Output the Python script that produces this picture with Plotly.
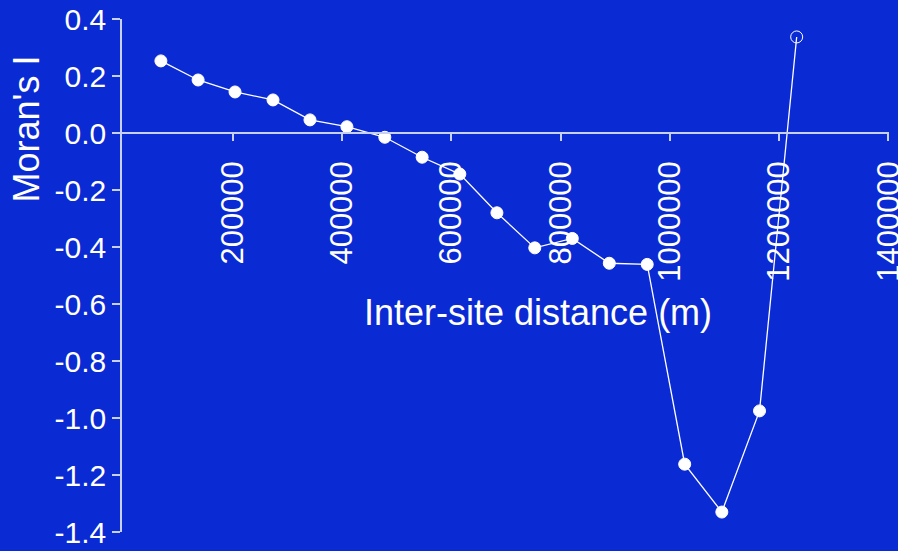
import plotly.graph_objects as go

# Correlogram: Moran's I by distance class
distance_m = [68200, 136300, 203900, 273400, 341100, 408700, 478100, 546400, 615400,
              683300, 752600, 821300, 889000, 958400, 1027000, 1095000, 1164000, 1232000]
morans_i = [0.253, 0.186, 0.144, 0.116, 0.046, 0.022, -0.015, -0.085, -0.144,
            -0.280, -0.403, -0.370, -0.457, -0.461, -1.162, -1.330, -0.975, 0.337]
# last class is drawn as an open circle
significant = [True] * 17 + [False]

x_tick_vals = [200000, 400000, 600000, 800000, 1000000, 1200000, 1400000]
x_tick_text = ["200000", "400000", "600000", "800000", "1000000", "1200000", "1400000"]
y_tick_vals = [0.4, 0.2, 0.0, -0.2, -0.4, -0.6, -0.8, -1.0, -1.2, -1.4]
y_tick_text = ["0.4", "0.2", "0.0", "-0.2", "-0.4", "-0.6", "-0.8", "-1.0", "-1.2", "-1.4"]

BG = "#0a2ad4"
AXIS = "#c8d0f0"
FONT = "Liberation Sans, Arial, sans-serif"

symbols = ["circle" if s else "circle-open" for s in significant]

fig = go.Figure()
fig.add_trace(go.Scatter(
    x=distance_m, y=morans_i, mode="lines+markers",
    line=dict(color="white", width=1.3),
    marker=dict(symbol=symbols, size=12, color="white",
                line=dict(color="white", width=1)),
    showlegend=False, hoverinfo="x+y",
))

fig.update_layout(
    width=898, height=551,
    margin=dict(l=122, r=9, t=19, b=19),
    paper_bgcolor=BG, plot_bgcolor=BG,
    font=dict(family=FONT, color="white"),
    xaxis=dict(
        range=[-3000, 1401000], anchor="free", position=1.4 / 1.8, automargin=False,
        showgrid=False, zeroline=False, showline=True, linecolor=AXIS, linewidth=1.5,
        ticks="outside", ticklen=7, tickcolor=AXIS, tickwidth=1.5,
        tickvals=x_tick_vals, ticktext=x_tick_text, tickangle=-90,
        tickfont=dict(size=31, color="white", family=FONT), ticklabelstandoff=8,
        ticklabeloverflow="allow",
    ),
    yaxis=dict(
        range=[-1.4, 0.4], showgrid=False, zeroline=False, automargin=False,
        showline=True, linecolor=AXIS, linewidth=1.5,
        ticks="outside", ticklen=8, tickcolor=AXIS, tickwidth=1.5,
        tickvals=y_tick_vals, ticktext=y_tick_text,
        tickfont=dict(size=30, color="white", family=FONT),
        ticklabeloverflow="allow",
    ),
    annotations=[
        dict(text="Inter-site distance (m)", xref="paper", yref="paper",
             x=0.5424, y=0.4288, xanchor="center", yanchor="middle",
             showarrow=False, font=dict(size=36, color="white", family=FONT)),
        dict(text="Moran's I", xref="paper", yref="paper", textangle=-90,
             x=-0.1239, y=0.7865, xanchor="center", yanchor="middle",
             showarrow=False, font=dict(size=36, color="white", family=FONT)),
    ],
)

fig.write_html("out.html")
